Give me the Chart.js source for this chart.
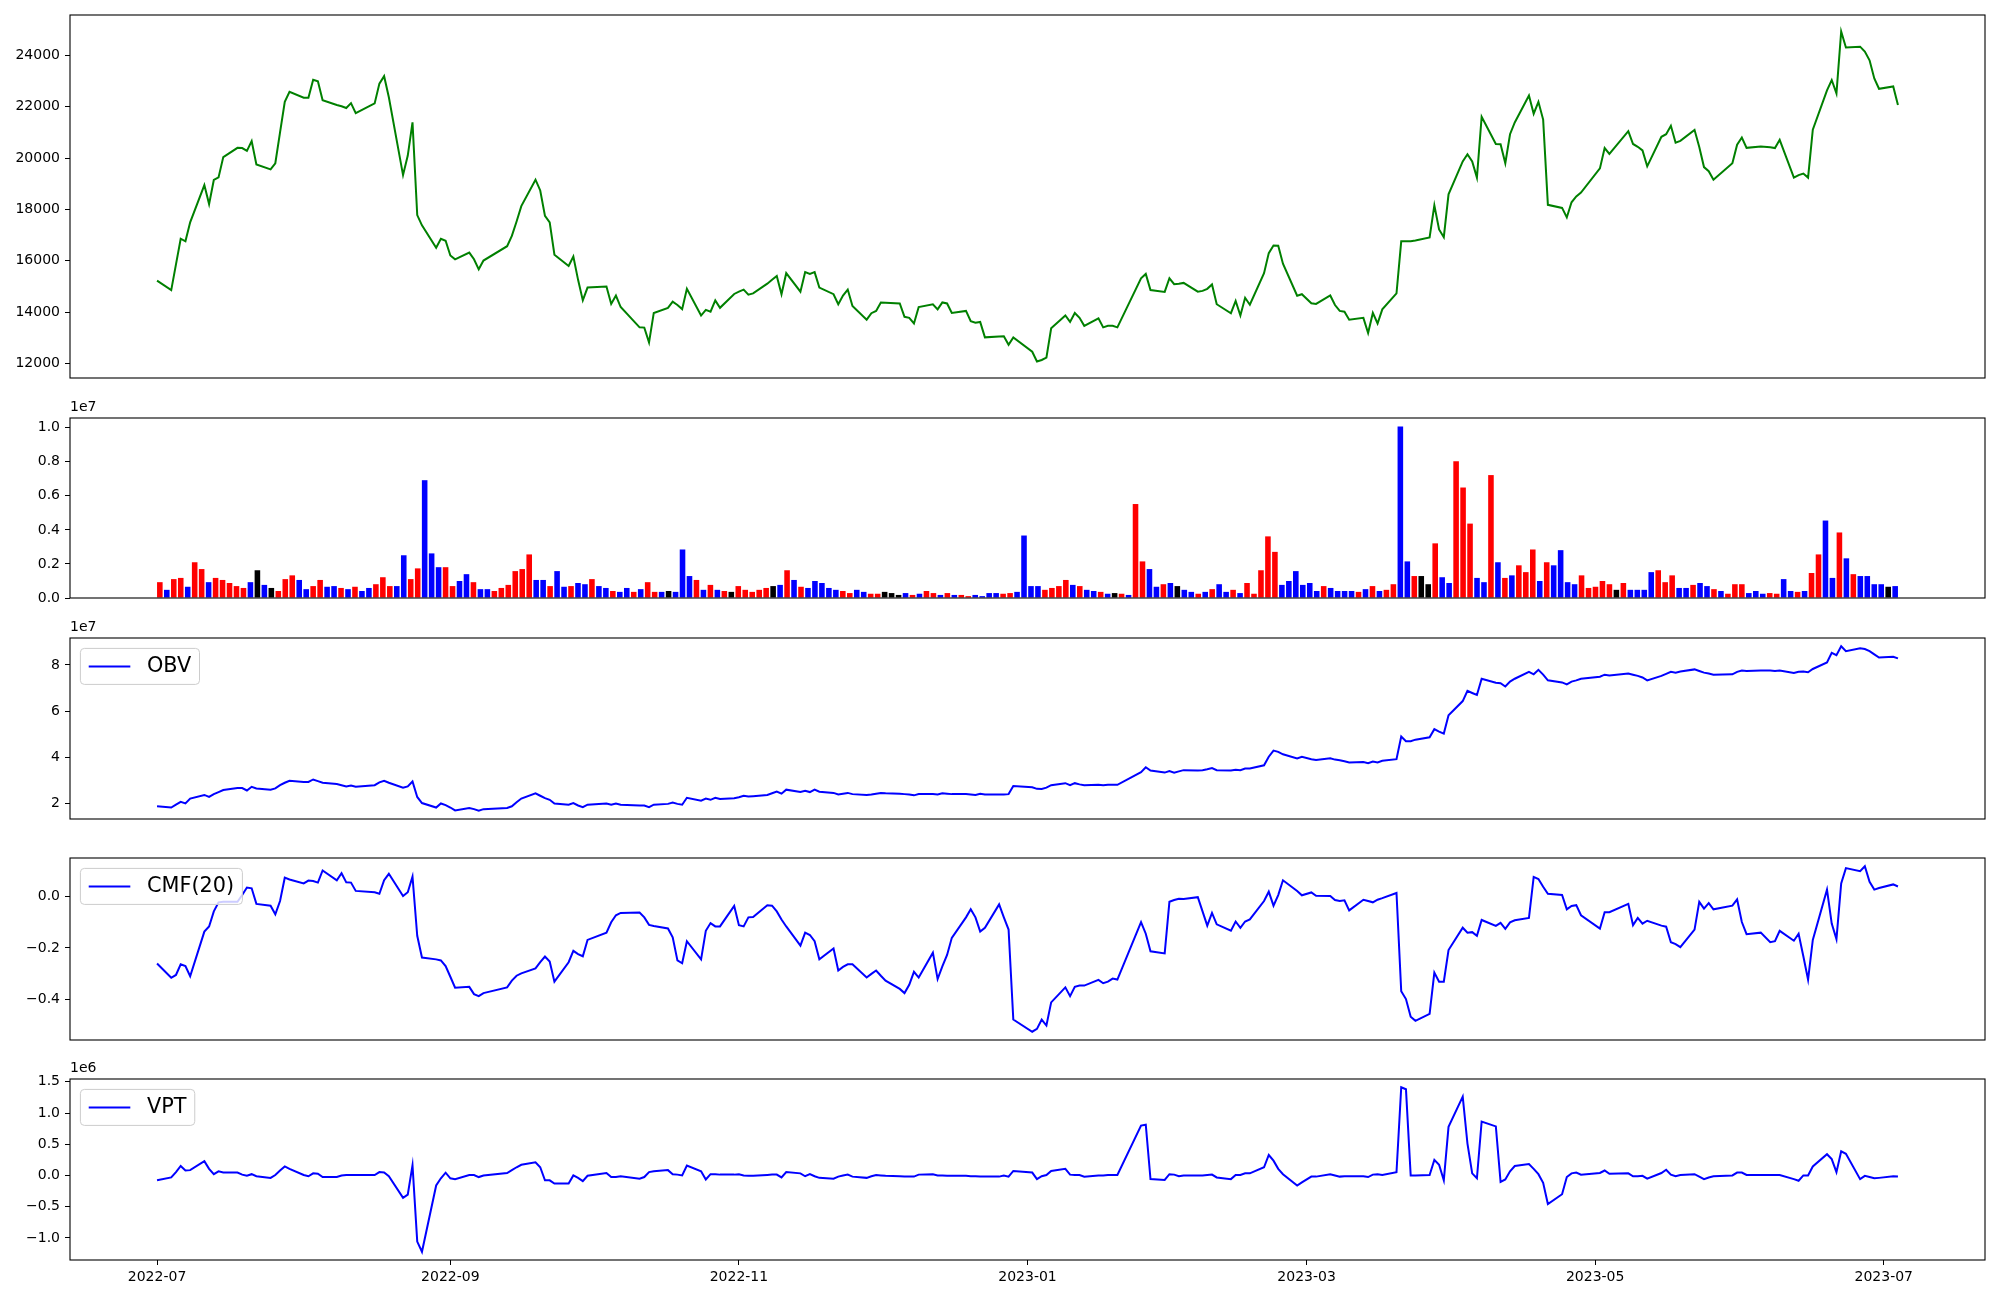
<!DOCTYPE html>
<html>
<head>
<meta charset="utf-8">
<title>Price, volume, OBV, CMF, VPT</title>
<script src="https://cdn.jsdelivr.net/npm/chart.js@4.4.1/dist/chart.umd.min.js"></script>
<style>
  body { margin: 0; background: #fff; }
  #wrap { position: relative; width: 2000px; height: 1300px; overflow: hidden; }
  #wrap canvas { position: absolute; left: 0; }
</style>
</head>
<body>
<div id="wrap"></div>
<script>
// trading calendar (KRX), weekends and these holidays are skipped
const firstDay = "2022-07-01";
const lastDay = "2023-07-04";
const holidays = [
  "2022-08-15", "2022-09-09", "2022-09-12", "2022-10-03", "2022-10-10", "2022-12-30",
  "2023-01-23", "2023-01-24", "2023-03-01", "2023-05-01", "2023-05-05", "2023-05-29", "2023-06-06"
];

// close price, one value per trading day
const price = [
  15230, 14860, 15860, 16860, 16760, 17500, 18950, 18210, 19150, 19250, 20040, 20400, 20390, 20280, 20660, 19750, 19560, 19800, 21000, 22190, 22580,
  22350, 22350, 23050, 22990, 22250, 22070, 22020, 21950, 22140, 21750, 22130, 22900, 23190, 22370, 19340, 20100, 21390, 17780, 17380, 16510, 16860, 16780,
  16210, 16060, 16320, 16060, 15670, 16010, 16570, 16970, 17530, 18130, 19160, 18740, 17750, 17500, 16240, 15800, 16170, 15260, 14460, 14960,
  15000, 14320, 14650, 14200, 13410, 13400, 12820, 13970, 14170, 14410, 14280, 14120, 14910, 13870, 14090, 14020, 14460, 14170, 14710,
  14800, 14880, 14680, 14730, 15110, 15260, 15410, 14700, 15520, 14800, 15560, 15490, 15560, 14960, 14700, 14310, 14650, 14880, 14240, 13710, 13960, 14050,
  14380, 14370, 14340, 13820, 13780, 13560, 14200, 14310, 14110, 14380, 14340, 13970, 14050, 13650, 13590, 13620, 13020, 13050, 13060, 12730, 13020,
  12460, 12080, 12140, 12230, 13370, 13870, 13620, 13970, 13780, 13470, 13760, 13410, 13470, 13470, 13410, 15320, 15490, 14860, 14790, 15320,
  15090, 15110, 15140, 14800, 14830, 14910, 15080, 14310, 13960, 14440, 13870, 14560, 14290, 15520, 16300, 16600, 16590, 15890, 14640, 14700,
  14350, 14320, 14650, 14280, 14050, 14020, 13710, 13780, 13190, 13970, 13560, 14110, 14730, 16760, 16760, 16760, 16790, 16910, 18160, 17220, 16920, 18590,
  19870, 20150, 19870, 19240, 21610, 20550, 20540, 19800, 20930, 21390, 22440, 21730, 22190, 21500, 18180, 18060, 17690, 18280, 18510, 18660,
  19600, 20390, 20160, 21050, 20550, 20440, 20300, 19680, 20830, 20930, 21260, 20600, 20670, 21100, 20430, 19650, 19490, 19160, 19800, 20520,
  20800, 20400, 20450, 20420, 20390, 20710, 19240, 19340, 19400, 19240, 21110, 22640, 23040, 22520, 24930, 24310, 24340, 24150, 23810, 23100, 22700,
  22790, 22070
];

const volume = [
  930000, 480000, 1110000, 1180000, 660000, 2100000, 1700000, 930000, 1180000, 1060000, 880000, 700000, 590000, 930000, 1630000, 770000, 590000, 410000, 1110000, 1330000, 1060000,
  520000, 700000, 1060000, 660000, 700000, 590000, 520000, 660000, 410000, 590000, 810000, 1220000, 700000, 700000, 2510000, 1110000, 1740000, 6920000, 2620000, 1810000, 1810000,
  700000, 1000000, 1400000, 930000, 520000, 520000, 410000, 590000, 770000, 1580000, 1700000, 2560000, 1060000, 1060000, 700000, 1580000, 660000, 700000, 880000, 810000, 1110000,
  700000, 590000, 410000, 360000, 590000, 360000, 520000, 930000, 360000, 360000, 410000, 360000, 2850000, 1290000, 1060000, 480000, 770000, 480000, 410000, 360000, 700000,
  480000, 360000, 480000, 590000, 700000, 770000, 1630000, 1060000, 660000, 590000, 1000000, 880000, 590000, 480000, 410000, 290000, 480000, 360000, 250000, 250000, 360000, 290000,
  180000, 290000, 180000, 250000, 410000, 290000, 180000, 290000, 180000, 180000, 110000, 180000, 110000, 290000, 290000, 250000, 290000, 360000, 3670000, 700000, 700000,
  480000, 590000, 700000, 1060000, 770000, 700000, 480000, 410000, 360000, 250000, 290000, 250000, 180000, 5520000, 2150000, 1700000, 660000, 810000, 880000, 700000, 480000, 360000,
  250000, 360000, 520000, 810000, 360000, 480000, 290000, 880000, 250000, 1630000, 3620000, 2710000, 770000, 1000000, 1580000, 770000, 880000, 410000, 700000, 590000, 410000,
  410000, 410000, 360000, 520000, 700000, 410000, 480000, 810000, 10070000, 2150000, 1290000, 1290000, 810000, 3210000, 1220000, 880000, 8030000, 6490000, 4370000, 1180000, 930000, 7220000,
  2100000, 1180000, 1330000, 1920000, 1520000, 2850000, 1000000, 2100000, 1920000, 2810000, 930000, 810000, 1330000, 590000, 660000, 1000000, 810000, 480000, 880000, 480000, 480000,
  480000, 1520000, 1630000, 930000, 1330000, 590000, 590000, 770000, 880000, 700000, 520000, 410000, 250000, 810000, 810000, 290000, 410000, 250000, 290000, 250000, 1110000,
  410000, 360000, 410000, 1470000, 2560000, 4550000, 1180000, 3850000, 2330000, 1400000, 1290000, 1290000, 810000, 810000, 660000, 700000
];

// r = up, b = down, k = unchanged
const volumeColor = (
  "rbrrbrrbrrrrrbkbkrrrbbrrbbrbrbbrrrbbrrbbbr" +
  "rbbrbbrrrrrrbbrbbrbbrbbrbbrbrrbkbbbrbrbrkr" +
  "rrrrkbrbrbbbbbrrbbrrkkkbrbrrbrbrrbbbbrrbbbb" +
  "rrrrbrbbrbkrbrrbbrbkbbrbrbbrbrrrrrbbbbbbrbb" +
  "bbrbrbrrbbrkkrbbrrrbbrbrbrrrbrbbbbrrrrrkrbb" +
  "bbrrrbbrbbrbrrrbbbrrbbrbrrbbrbrbbbbkb"
).split("");

const obv = [
  1.886e7, 1.834e7, 1.956e7, 2.079e7, 2.009e7, 2.220e7, 2.378e7, 2.290e7, 2.413e7, 2.500e7, 2.589e7, 2.677e7, 2.677e7, 2.571e7, 2.729e7, 2.659e7, 2.606e7, 2.659e7, 2.800e7, 2.905e7, 2.993e7,
  2.940e7, 2.940e7, 3.046e7, 2.976e7, 2.905e7, 2.852e7, 2.800e7, 2.747e7, 2.782e7, 2.729e7, 2.800e7, 2.923e7, 2.993e7, 2.905e7, 2.694e7, 2.747e7, 2.958e7, 2.290e7, 2.027e7, 1.834e7, 2.009e7, 1.940e7,
  1.834e7, 1.710e7, 1.816e7, 1.763e7, 1.693e7, 1.763e7, 1.816e7, 1.886e7, 2.060e7, 2.220e7, 2.448e7, 2.343e7, 2.237e7, 2.167e7, 2.009e7, 1.956e7, 2.027e7, 1.921e7, 1.851e7, 1.956e7,
  2.009e7, 1.956e7, 2.009e7, 1.956e7, 1.921e7, 1.921e7, 1.851e7, 1.956e7, 1.991e7, 2.044e7, 1.991e7, 1.956e7, 2.255e7, 2.132e7, 2.220e7, 2.167e7, 2.255e7, 2.202e7, 2.237e7,
  2.280e7, 2.343e7, 2.307e7, 2.325e7, 2.378e7, 2.448e7, 2.519e7, 2.431e7, 2.606e7, 2.501e7, 2.554e7, 2.501e7, 2.606e7, 2.519e7, 2.466e7, 2.396e7, 2.431e7, 2.466e7, 2.413e7, 2.378e7, 2.396e7, 2.431e7,
  2.466e7, 2.448e7, 2.431e7, 2.413e7, 2.396e7, 2.360e7, 2.413e7, 2.413e7, 2.396e7, 2.448e7, 2.431e7, 2.413e7, 2.413e7, 2.396e7, 2.378e7, 2.431e7, 2.396e7, 2.396e7, 2.396e7, 2.413e7, 2.765e7,
  2.712e7, 2.642e7, 2.640e7, 2.694e7, 2.800e7, 2.887e7, 2.800e7, 2.887e7, 2.835e7, 2.800e7, 2.817e7, 2.800e7, 2.817e7, 2.817e7, 2.817e7, 3.362e7, 3.573e7, 3.432e7, 3.344e7, 3.415e7,
  3.344e7, 3.397e7, 3.450e7, 3.432e7, 3.450e7, 3.485e7, 3.538e7, 3.450e7, 3.432e7, 3.467e7, 3.450e7, 3.520e7, 3.520e7, 3.661e7, 4.030e7, 4.293e7, 4.240e7, 4.135e7, 3.959e7, 4.030e7,
  3.924e7, 3.889e7, 3.959e7, 3.906e7, 3.880e7, 3.836e7, 3.784e7, 3.801e7, 3.748e7, 3.819e7, 3.784e7, 3.854e7, 3.924e7, 4.908e7, 4.697e7, 4.697e7, 4.768e7, 4.873e7, 5.224e7, 5.119e7, 5.031e7, 5.822e7,
  6.437e7, 6.876e7, 6.788e7, 6.700e7, 7.403e7, 7.227e7, 7.210e7, 7.069e7, 7.280e7, 7.403e7, 7.702e7, 7.596e7, 7.790e7, 7.579e7, 7.333e7, 7.245e7, 7.157e7, 7.280e7, 7.333e7, 7.403e7,
  7.491e7, 7.579e7, 7.544e7, 7.631e7, 7.579e7, 7.526e7, 7.456e7, 7.333e7, 7.526e7, 7.614e7, 7.702e7, 7.667e7, 7.719e7, 7.807e7, 7.737e7, 7.667e7, 7.631e7, 7.579e7, 7.596e7, 7.702e7,
  7.754e7, 7.737e7, 7.754e7, 7.754e7, 7.737e7, 7.754e7, 7.649e7, 7.702e7, 7.719e7, 7.684e7, 7.825e7, 8.106e7, 8.527e7, 8.422e7, 8.809e7, 8.598e7, 8.721e7, 8.686e7, 8.598e7, 8.457e7, 8.317e7,
  8.352e7, 8.282e7
];

const cmf = [
  -0.260, -0.315, -0.304, -0.263, -0.270, -0.309, -0.137, -0.117, -0.059, -0.024, -0.022, -0.022, 0.004, 0.033, 0.030, -0.030, -0.037, -0.070, -0.019, 0.071, 0.064,
  0.049, 0.060, 0.058, 0.052, 0.099, 0.061, 0.088, 0.053, 0.052, 0.020, 0.015, 0.009, 0.061, 0.086, 0.000, 0.015, 0.075, -0.153, -0.237, -0.244, -0.248, -0.270,
  -0.311, -0.353, -0.350, -0.378, -0.386, -0.374, -0.352, -0.326, -0.307, -0.298, -0.279, -0.255, -0.233, -0.252, -0.330, -0.255, -0.211, -0.224, -0.232, -0.169,
  -0.141, -0.101, -0.074, -0.065, -0.063, -0.082, -0.111, -0.115, -0.125, -0.159, -0.248, -0.259, -0.174, -0.244, -0.134, -0.104, -0.117, -0.117, -0.038,
  -0.112, -0.117, -0.082, -0.081, -0.035, -0.037, -0.059, -0.090, -0.117, -0.191, -0.141, -0.150, -0.174, -0.244, -0.202, -0.287, -0.273, -0.263, -0.263, -0.314, -0.300, -0.287,
  -0.307, -0.326, -0.358, -0.374, -0.342, -0.292, -0.314, -0.218, -0.320, -0.271, -0.227, -0.161, -0.082, -0.051, -0.082, -0.137, -0.122, -0.032, -0.082, -0.129, -0.476,
  -0.523, -0.512, -0.476, -0.499, -0.410, -0.352, -0.386, -0.350, -0.345, -0.345, -0.323, -0.336, -0.330, -0.318, -0.322, -0.100, -0.145, -0.213, -0.221, -0.022,
  -0.015, -0.010, -0.011, -0.004, -0.059, -0.114, -0.065, -0.109, -0.133, -0.098, -0.122, -0.098, -0.090, -0.019, 0.017, -0.037, 0.004, 0.061, 0.020, 0.003,
  0.014, 0.001, 0.000, -0.015, -0.019, -0.016, -0.055, -0.014, -0.019, -0.024, -0.014, -0.008, 0.012, -0.367, -0.397, -0.465, -0.481, -0.454, -0.295, -0.330, -0.330, -0.208,
  -0.122, -0.141, -0.139, -0.153, -0.092, -0.115, -0.103, -0.126, -0.101, -0.093, -0.084, 0.074, 0.066, 0.036, 0.009, 0.004, -0.051, -0.038, -0.035, -0.074,
  -0.125, -0.062, -0.062, -0.030, -0.112, -0.084, -0.106, -0.095, -0.114, -0.118, -0.178, -0.185, -0.197, -0.129, -0.022, -0.048, -0.027, -0.051, -0.037, -0.013,
  -0.100, -0.147, -0.141, -0.178, -0.174, -0.134, -0.172, -0.145, -0.232, -0.322, -0.169, 0.025, -0.106, -0.166, 0.049, 0.108, 0.096, 0.115, 0.055, 0.025, 0.031,
  0.045, 0.037
];

const vpt = [
  -77000, -31000, 54000, 152000, 80000, 86000, 230000, 106000, 21000, 67000, 47000, 47000, 14000, -5000, 21000, -12000, -38000, 8000, 80000, 145000, 106000,
  8000, -12000, 34000, 28000, -25000, -25000, 1000, 8000, 8000, 8000, 8000, 54000, 47000, -12000, -358000, -306000, 165000, -1058000, -1221000, -160000, -45000, 45000,
  -45000, -58000, 8000, 8000, -25000, 1000, 40000, 86000, 132000, 171000, 210000, 132000, -77000, -77000, -130000, -130000, 1000, -38000, -90000, -5000,
  40000, -25000, -25000, -12000, -51000, -25000, 54000, 67000, 86000, 21000, 14000, 1000, 158000, 67000, -64000, 21000, 21000, 14000, 14000,
  20000, 1000, -5000, -5000, 8000, 14000, 14000, -31000, 54000, 34000, -12000, 21000, -12000, -38000, -51000, -18000, 1000, 14000, -18000, -38000, -12000, 8000,
  1000, -5000, -12000, -18000, -18000, -18000, 14000, 21000, 1000, 1000, -5000, -5000, -5000, -12000, -12000, -18000, -18000, -18000, 1000, -18000, 73000,
  47000, -58000, -12000, 8000, 73000, 106000, 14000, 8000, 8000, -18000, 1000, 1000, 8000, 8000, 8000, 799000, 812000, -58000, -71000, 21000,
  14000, -12000, 1000, 1000, 1000, 8000, 14000, -31000, -58000, 8000, 8000, 34000, 34000, 132000, 328000, 237000, 106000, 21000, -162000, -110000,
  -18000, -18000, 21000, 1000, -18000, -12000, -12000, -12000, -25000, 14000, 21000, 8000, 54000, 1413000, 1380000, 1000, 1000, 8000, 250000, 171000, -77000, 779000,
  1263000, 511000, 34000, -45000, 864000, 786000, -103000, -64000, 67000, 152000, 184000, 106000, 21000, -116000, -456000, -300000, -25000, 34000, 47000, 14000,
  40000, 80000, 27000, 34000, -12000, -12000, -5000, -51000, 40000, 93000, 14000, -12000, 8000, 21000, -18000, -58000, -31000, -12000, 1000, 47000,
  47000, 8000, 8000, 8000, 8000, 8000, -58000, -84000, 1000, 1000, 145000, 341000, 263000, 54000, 387000, 348000, -58000, -5000, -25000, -45000, -38000,
  -12000, -18000
];

// axis ticks
const monthTicks = ["2022-07", "2022-09", "2022-11", "2023-01", "2023-03", "2023-05", "2023-07"];
const priceTicks = [12000, 14000, 16000, 18000, 20000, 22000, 24000];
const volumeTicks = [0, 2e6, 4e6, 6e6, 8e6, 1e7];
const obvTicks = [2e7, 4e7, 6e7, 8e7];
const cmfTicks = [-0.4, -0.2, 0.0];
const vptTicks = [-1e6, -0.5e6, 0, 0.5e6, 1e6, 1.5e6];

Chart.defaults.font.family = "'DejaVu Sans', sans-serif";
Chart.defaults.font.size = 14;
Chart.defaults.color = "#000";

const DAY = 86400000;
const t0 = Date.parse(firstDay);
const dayNum = (s) => Math.round((Date.parse(s) - t0) / DAY);

let tradingDays = [];
for (let t = t0; t <= Date.parse(lastDay); t += DAY) {
  const d = new Date(t);
  const s = d.toISOString().slice(0, 10);
  if (d.getUTCDay() === 0 || d.getUTCDay() === 6 || holidays.includes(s)) continue;
  tradingDays.push(s);
}
const xs = tradingDays.map(dayNum);

// date axis (lines) and bar-index axis (volume), both with 5% side margins
const xSpan = xs[xs.length - 1] - xs[0];
const dateRange = { min: xs[0] - 0.05 * xSpan, max: xs[xs.length - 1] + 0.05 * xSpan };
const barWidth = 0.8;
const iSpan = volume.length - 1 + barWidth;
const indexRange = { min: -barWidth / 2 - 0.05 * iSpan, max: volume.length - 1 + barWidth / 2 + 0.05 * iSpan };

function margins(arr) {
  const lo = Math.min(...arr), hi = Math.max(...arr);
  const r = hi - lo;
  return { min: lo - 0.05 * r, max: hi + 0.05 * r };
}

const minus = (s) => s.replace("-", "\u2212");

// frame, offset text and legend, drawn the matplotlib way
const panelDecor = {
  id: "panelDecor",
  afterDatasetsDraw(chart, args, opts) {
    if (!opts.legend) return;
    const { ctx, chartArea: a } = chart;
    const fs = 20.8;
    ctx.save();
    ctx.font = fs + "px 'DejaVu Sans', sans-serif";
    const tw = ctx.measureText(opts.legend).width;
    const x0 = a.left + 10.4, y0 = a.top + 10.4;
    const w = fs * 0.4 * 2 + fs * 2 + fs * 0.8 + tw, h = 36;
    ctx.beginPath();
    ctx.roundRect(x0, y0, w, h, 4);
    ctx.fillStyle = "rgba(255,255,255,0.8)";
    ctx.fill();
    ctx.lineWidth = 1;
    ctx.strokeStyle = "#cccccc";
    ctx.stroke();
    ctx.beginPath();
    ctx.moveTo(x0 + fs * 0.4, y0 + h / 2);
    ctx.lineTo(x0 + fs * 0.4 + fs * 2, y0 + h / 2);
    ctx.strokeStyle = chart.data.datasets[0].borderColor;
    ctx.lineWidth = 2;
    ctx.stroke();
    ctx.fillStyle = "#000";
    ctx.textBaseline = "middle";
    ctx.textAlign = "left";
    ctx.fillText(opts.legend, x0 + fs * 0.4 + fs * 2 + fs * 0.8, y0 + h / 2);
    ctx.restore();
  },
  afterDraw(chart, args, opts) {
    const { ctx, chartArea: a } = chart;
    ctx.save();
    ctx.strokeStyle = "#000";
    ctx.lineWidth = 1.1;
    ctx.strokeRect(a.left, a.top, a.right - a.left, a.bottom - a.top);
    if (opts.offset) {
      ctx.font = "14px 'DejaVu Sans', sans-serif";
      ctx.fillStyle = "#000";
      ctx.textAlign = "left";
      ctx.textBaseline = "bottom";
      ctx.fillText(opts.offset, a.left, a.top - 4);
    }
    ctx.restore();
  }
};
Chart.register(panelDecor);

const wrap = document.getElementById("wrap");

function makePanel(p) {
  const showDates = !!p.showDates;
  const padTop = 25;
  const padBottom = showDates ? 0 : 15;
  const axisH = showDates ? 40 : 0;
  const xr = p.xRange || dateRange;
  const canvas = document.createElement("canvas");
  canvas.width = 2000;
  canvas.height = p.bottom - p.top + padTop + padBottom + axisH;
  canvas.style.top = (p.top - padTop) + "px";
  wrap.appendChild(canvas);

  const tickStyle = { drawOnChartArea: false, drawTicks: true, tickLength: 5, color: "#000", lineWidth: 1 };

  return new Chart(canvas, {
    type: p.type,
    data: { datasets: p.datasets },
    options: {
      responsive: false,
      animation: false,
      devicePixelRatio: 1,
      layout: { padding: { left: 0, right: 15, top: padTop, bottom: padBottom } },
      plugins: {
        legend: { display: false },
        tooltip: { enabled: false },
        panelDecor: { legend: p.legend, offset: p.offset }
      },
      scales: {
        x: {
          type: "linear",
          min: xr.min,
          max: xr.max,
          offset: false,
          display: showDates,
          grid: tickStyle,
          border: { display: false },
          afterBuildTicks: (s) => { s.ticks = monthTicks.map((m) => ({ value: dayNum(m + "-01") })); },
          afterFit: (s) => { s.height = axisH; },
          ticks: {
            autoSkip: false,
            maxRotation: 0,
            padding: 4,
            callback: (v) => monthTicks.find((m) => dayNum(m + "-01") === v) || ""
          }
        },
        y: {
          min: p.min,
          max: p.max,
          grid: tickStyle,
          border: { display: false },
          afterFit: (s) => { s.width = 70; },
          afterBuildTicks: (s) => { s.ticks = p.ticks.map((v) => ({ value: v })); },
          ticks: { padding: 5, callback: p.label }
        }
      }
    }
  });
}

const line = (values, color) => ({
  type: "line",
  data: xs.map((x, i) => ({ x, y: values[i] })),
  borderColor: color,
  borderWidth: 2,
  pointRadius: 0,
  tension: 0,
  fill: false
});

const colorOf = { r: "#ff0000", b: "#0000ff", k: "#000000" };

const pr = margins(price);
makePanel({
  type: "line", top: 15, bottom: 378,
  datasets: [line(price, "#008000")],
  min: pr.min, max: pr.max, ticks: priceTicks,
  label: (v) => String(v)
});

// volume bars sit on their own index axis, one slot per trading day
makePanel({
  type: "bar", top: 418, bottom: 598, xRange: indexRange,
  datasets: [{
    type: "bar",
    data: volume.map((v, i) => ({ x: i, y: v })),
    backgroundColor: volumeColor.map((c) => colorOf[c]),
    borderWidth: 0,
    barPercentage: 1.0,
    categoryPercentage: barWidth
  }],
  min: 0, max: Math.max(...volume) * 1.05, ticks: volumeTicks,
  label: (v) => (v / 1e7).toFixed(1),
  offset: "1e7"
});

const ob = margins(obv);
makePanel({
  type: "line", top: 638, bottom: 819,
  datasets: [line(obv, "#0000ff")],
  min: ob.min, max: ob.max, ticks: obvTicks,
  label: (v) => String(Math.round(v / 1e7)),
  offset: "1e7", legend: "OBV"
});

const cm = margins(cmf);
makePanel({
  type: "line", top: 858, bottom: 1040,
  datasets: [line(cmf, "#0000ff")],
  min: cm.min, max: cm.max, ticks: cmfTicks,
  label: (v) => minus(v.toFixed(1)),
  legend: "CMF(20)"
});

const vp = margins(vpt);
makePanel({
  type: "line", top: 1079, bottom: 1260, showDates: true,
  datasets: [line(vpt, "#0000ff")],
  min: vp.min, max: vp.max, ticks: vptTicks,
  label: (v) => minus((v / 1e6).toFixed(1)),
  offset: "1e6", legend: "VPT"
});
</script>
</body>
</html>
